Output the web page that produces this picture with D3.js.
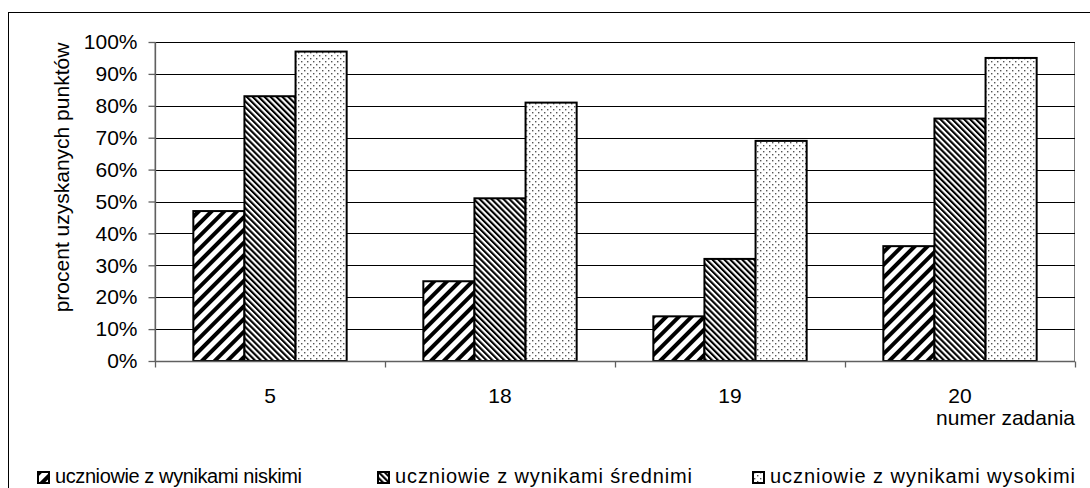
<!DOCTYPE html>
<html><head><meta charset="utf-8">
<script src="https://cdn.jsdelivr.net/npm/d3@7"></script>
<style>body{margin:0;background:#fff}svg{display:block}text{font-family:"Liberation Sans",Arial,sans-serif;fill:#000}</style>
</head><body><svg id="c" width="1090" height="488"></svg>
<script>
const categories = ["5","18","19","20"];
const seriesNames = ["uczniowie z wynikami niskimi","uczniowie z wynikami średnimi","uczniowie z wynikami wysokimi"];
const niskie = [47,25,14,36];
const srednie = [83,51,32,76];
const wysokie = [97,81,69,95];
const yTicks = [0,10,20,30,40,50,60,70,80,90,100];
const yTitle = "procent uzyskanych punktów";
const xTitle = "numer zadania";

const series = [niskie, srednie, wysokie];
const svg = d3.select("#c");
const defs = svg.append("defs");
const p1 = defs.append("pattern").attr("id","p0").attr("patternUnits","userSpaceOnUse")
  .attr("width",9).attr("height",9).attr("patternTransform","rotate(45)");
p1.append("rect").attr("width",9).attr("height",9).attr("fill","#fff");
p1.append("rect").attr("x",0).attr("width",4).attr("height",9).attr("fill","#000");
const p2 = defs.append("pattern").attr("id","p1").attr("patternUnits","userSpaceOnUse")
  .attr("width",4.2).attr("height",4.2).attr("patternTransform","rotate(-45)");
p2.append("rect").attr("width",4.2).attr("height",4.2).attr("fill","#fff");
p2.append("rect").attr("width",2.1).attr("height",4.2).attr("fill","#000");
const p3 = defs.append("pattern").attr("id","p2").attr("patternUnits","userSpaceOnUse")
  .attr("width",6).attr("height",6);
p3.append("rect").attr("width",6).attr("height",6).attr("fill","#fff");
p3.append("rect").attr("x",1).attr("y",1).attr("width",1.4).attr("height",1.4).attr("fill","#555");
p3.append("rect").attr("x",4).attr("y",4).attr("width",1.4).attr("height",1.4).attr("fill","#555");

svg.append("rect").attr("x",8.5).attr("y",12.5).attr("width",1200).attr("height",600)
  .attr("fill","none").attr("stroke","#000").attr("stroke-width",1);

const L=155, R=1075, T=42, B=361;
const x = d3.scaleBand().domain(categories).range([L,R]);
const y = d3.scaleLinear().domain([0,100]).range([B,T]);
const xs = d3.scaleBand().domain([0,1,2]).range([0,x.bandwidth()]).paddingOuter(0.75).paddingInner(0);

svg.append("rect").attr("x",L).attr("y",T+0.5).attr("width",R-L-0.5).attr("height",B-T)
  .attr("fill","none").attr("stroke","#808080");
svg.append("g").selectAll("line").data(yTicks.filter(d=>d>0)).join("line")
  .attr("x1",L).attr("x2",R).attr("y1",d=>Math.round(y(d))+0.5).attr("y2",d=>Math.round(y(d))+0.5)
  .attr("stroke","#000");

categories.forEach((c,i)=>{
  series.forEach((s,j)=>{
    svg.append("rect")
      .attr("x",x(c)+xs(j)).attr("y",y(s[i]))
      .attr("width",xs.bandwidth()).attr("height",B-y(s[i]))
      .attr("fill",`url(#p${j})`).attr("stroke","#000").attr("stroke-width",2);
  });
});

const yAxis = svg.append("g").attr("transform",`translate(${L+0.5},0)`)
  .call(d3.axisLeft(y).tickValues(yTicks).tickFormat(d=>d+"%").tickSize(7).tickPadding(11));
yAxis.selectAll("path,line").attr("stroke","#606060").attr("stroke-width",1.3);
yAxis.selectAll("text").attr("font-size",21).attr("font-family","Liberation Sans, Arial");
yAxis.select(".domain").attr("d",`M0,${T}V${B}`);

const xAxisG = svg.append("g").attr("transform",`translate(0,${B+0.5})`);
xAxisG.append("line").attr("x1",L).attr("x2",R).attr("stroke","#606060").attr("stroke-width",1.3);
const bounds = categories.map(c=>x(c)).concat([x(categories[categories.length-1])+x.bandwidth()]);
xAxisG.selectAll("line.t").data(bounds).join("line").attr("class","t")
  .attr("x1",d=>d+0.5).attr("x2",d=>d+0.5).attr("y1",0).attr("y2",6).attr("stroke","#606060").attr("stroke-width",1.3);
xAxisG.selectAll("text").data(categories).join("text")
  .attr("x",d=>x(d)+x.bandwidth()/2).attr("y",41).attr("text-anchor","middle")
  .attr("font-size",21).text(d=>d);

svg.append("text").attr("x",R).attr("y",425).attr("text-anchor","end").attr("font-size",21).text(xTitle);
svg.append("text").attr("transform",`translate(69,${(T+B)/2-24}) rotate(-90)`).attr("text-anchor","middle")
  .attr("font-size",21).text(yTitle);

const legX = [37,377,752];
const legW = [247,297,305];
seriesNames.forEach((n,j)=>{
  svg.append("rect").attr("x",legX[j]+1).attr("y",472).attr("width",11).attr("height",11)
    .attr("fill",`url(#p${j})`).attr("stroke","#000").attr("stroke-width",2);
  svg.append("text").attr("x",legX[j]+18).attr("y",483).attr("font-size",20)
    .attr("textLength",legW[j]).attr("lengthAdjust","spacing").text(n);
});
</script></body></html>
